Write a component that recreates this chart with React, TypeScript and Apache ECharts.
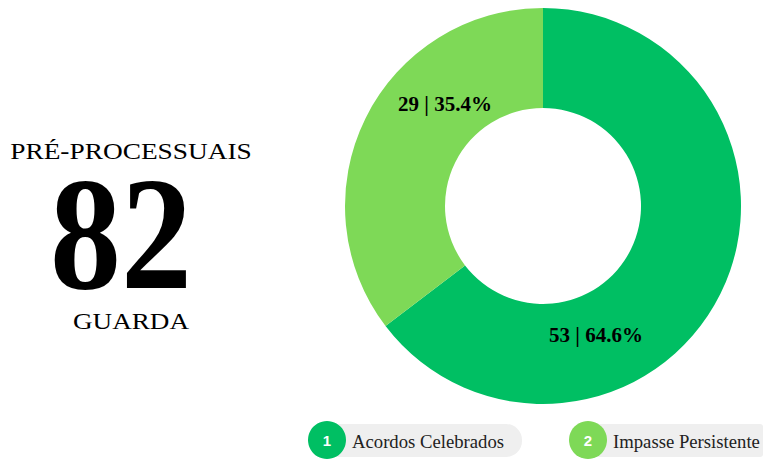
import React, { useEffect, useRef } from "react";
import * as echarts from "echarts";

const categories = ["Acordos Celebrados", "Impasse Persistente"];
const values = [53, 29];
const colors = ["#00BF63", "#7ED957"];
const totalLabel = "82";
const topLabel = "PRÉ-PROCESSUAIS";
const bottomLabel = "GUARDA";

export default function App() {
  const ref = useRef<HTMLDivElement>(null);
  useEffect(() => {
    if (!ref.current) return;
    const chart = echarts.init(ref.current, undefined, { renderer: "svg" });
    const total = values.reduce((a, b) => a + b, 0);
    const serif = "'Liberation Serif', 'Times New Roman', serif";
    const labelPos = [
      [596, 335],
      [445, 104],
    ];
    const legendX = [327, 588];
    const pillW = [195, 175];
    const pillR = [[0, 16, 16, 0], [0, 3, 3, 0]];
    const graphic: any[] = [
      { type: "text", x: 131, y: 151, scaleX: 1.14, style: { text: topLabel, font: `24px ${serif}`, fill: "#000", align: "center", verticalAlign: "middle" } },
      { type: "text", x: 121, y: 234, scaleY: 1.13, style: { text: totalLabel, font: `bold 142px ${serif}`, fill: "#000", align: "center", verticalAlign: "middle" } },
      { type: "text", x: 131, y: 321, scaleX: 1.13, style: { text: bottomLabel, font: `24px ${serif}`, fill: "#000", align: "center", verticalAlign: "middle" } },
    ];
    values.forEach((v, i) => {
      const pct = ((v / total) * 100).toFixed(1);
      graphic.push({
        type: "text",
        x: labelPos[i][0],
        y: labelPos[i][1],
        z: 10,
        style: { text: `${v} | ${pct}%`, font: `bold 21px ${serif}`, fill: "#000", align: "center", verticalAlign: "middle" },
      });
      graphic.push({
        type: "rect",
        shape: { x: legendX[i], y: 424, width: pillW[i], height: 33, r: pillR[i] },
        style: { fill: "#EFEFEF" },
      });
      graphic.push({
        type: "circle",
        shape: { cx: legendX[i], cy: 440, r: 19 },
        style: { fill: colors[i] },
      });
      graphic.push({
        type: "text",
        x: legendX[i],
        y: 440,
        style: { text: String(i + 1), font: `bold 15px 'Liberation Sans', Arial, sans-serif`, fill: "#fff", align: "center", verticalAlign: "middle" },
      });
      graphic.push({
        type: "text",
        x: legendX[i] + 25,
        y: 441,
        style: { text: categories[i], font: `18.7px ${serif}`, fill: "#222", align: "left", verticalAlign: "middle" },
      });
    });
    chart.setOption({
      animation: false,
      series: [
        {
          type: "pie",
          center: [543, 206],
          radius: [98, 198],
          startAngle: 90,
          clockwise: true,
          label: { show: false },
          labelLine: { show: false },
          silent: true,
          data: categories.map((c, i) => ({ name: c, value: values[i], itemStyle: { color: colors[i] } })),
        },
      ],
      graphic,
    });
    return () => chart.dispose();
  }, []);
  return <div ref={ref} style={{ width: 770, height: 459, position: "absolute", left: 0, top: 0 }} />;
}
